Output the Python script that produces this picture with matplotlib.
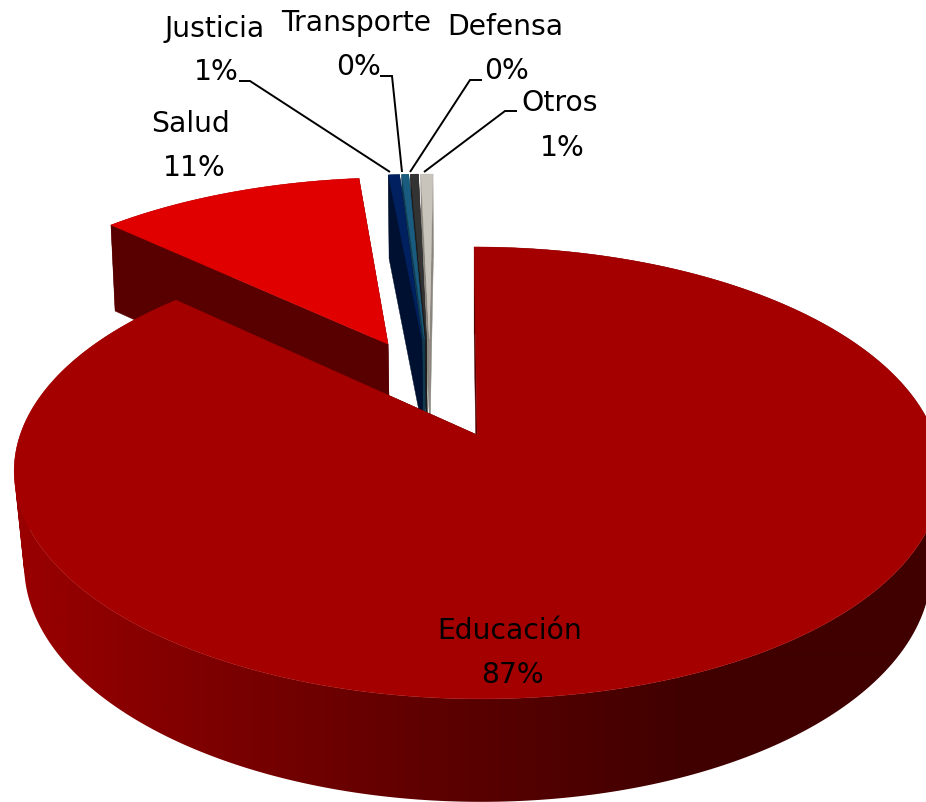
import numpy as np
import matplotlib
matplotlib.use('Agg')
import matplotlib.pyplot as plt
from matplotlib.colors import LinearSegmentedColormap
from matplotlib.patches import PathPatch, Polygon
from matplotlib.path import Path

# Datos
sectores = ['Educación', 'Salud', 'Justicia', 'Transporte', 'Defensa', 'Otros']
valores = [87.0, 11.36, 0.48, 0.30, 0.34, 0.52]
etiquetas = ['87%', '11%', '1%', '0%', '0%', '1%']

color_tapa = ['#a50000', '#e00000', '#002060', '#1a5c7f', '#333333', '#c9c4bb']
color_pared = ['#500000', '#580000', '#001030', '#0f3a50', '#1c1c1c', '#8a867e']

# Perspectiva del pastel (pixeles)
X0, Y0 = 477, 436
A, B, K, CIZALLA = 457, 219.6, 0.168, 3.5
ALTO, K_ALTO = 94.3, 0.084
X_FUGA = 475
EXPLOSION = 0.245
CENTRO = (-0.097, -0.225)
ajuste_u = [0, 0, -0.008, -0.008, -0.008, -0.008]


def proyectar(u, v, abajo=False):
    u, v = np.asarray(u, float), np.asarray(v, float)
    x = X0 + (A * u + CIZALLA * v) / (1 - K * v)
    y = Y0 + B * v / (1 - K * v)
    if abajo:
        y = y + ALTO / (1 - K_ALTO * v)
        # la base se encoge mas hacia el frente
        x = x - (0.011 + 0.0079 * (v + 1.2)) * (x - X_FUGA)
    return x, y


def poligono(xs, ys):
    return np.column_stack([xs, ys])


def banda(xa, ya, xb, yb):
    # pared como suma de cuadrilateros con la misma orientacion
    trozos = []
    for n in range(len(xa) - 1):
        q = poligono([xa[n], xa[n + 1], xb[n + 1], xb[n]], [ya[n], ya[n + 1], yb[n + 1], yb[n]])
        area = np.sum(q[:, 0] * np.roll(q[:, 1], -1) - np.roll(q[:, 0], -1) * q[:, 1])
        if area < 0:
            q = q[::-1]
        trozos.append(Path(np.vstack([q, q[0]]), closed=True))
    return Path.make_compound_path(*trozos)


fig = plt.figure(figsize=(9.26, 8.03), dpi=100)
ax = fig.add_axes([0, 0, 1, 1])

limites = np.radians(np.concatenate([[0], np.cumsum(valores)]) * 3.6)
gradiente = LinearSegmentedColormap.from_list(
    'pared', ['#9c0000', '#7a0000', '#5a0000', '#400000', '#400000'])

# Se dibuja de atras hacia adelante: Otros ... Salud, Educacion al final
for i in range(len(valores) - 1, -1, -1):
    t0, t1 = limites[i], limites[i + 1]
    medio = (t0 + t1) / 2
    cu = CENTRO[0] + EXPLOSION * np.sin(medio) + ajuste_u[i]
    cv = CENTRO[1] - EXPLOSION * np.cos(medio)
    radio = 1.0 if i == 0 else 1.015
    t = np.linspace(t0, t1, 400 if i == 0 else 40)
    u = cu + radio * np.sin(t)
    v = cv - radio * np.cos(t)

    xa, ya = proyectar(u, v)
    xb, yb = proyectar(u, v, abajo=True)
    xc, yc = proyectar(cu, cv)
    xcb, ycb = proyectar(cu, cv, abajo=True)

    # paredes de los cortes
    for j in (-1, 0):
        ax.add_patch(Polygon(poligono([xc, xa[j], xb[j], xcb], [yc, ya[j], yb[j], ycb]),
                             fc=color_pared[i], ec=color_pared[i], lw=0.3))

    # pared exterior
    if i == 0:
        # degradado horizontal recortado a la pared
        contorno = PathPatch(banda(xa, ya, xb, yb), fc='none', ec='none')
        ax.add_patch(contorno)
        img = ax.imshow(np.linspace(0, 1, 926).reshape(1, -1), cmap=gradiente, vmin=0, vmax=1,
                        extent=(0, 926, 803, 0), aspect='auto', interpolation='bilinear', zorder=2)
        img.set_clip_path(contorno)
    else:
        ax.add_patch(PathPatch(banda(xa, ya, xb, yb), fc=color_pared[i], ec='none'))

    # tapa: las de atras quedan bajo el degradado, la de Educacion encima
    ax.add_patch(Polygon(poligono(np.r_[xc, xa], np.r_[yc, ya]),
                         fc=color_tapa[i], ec=color_tapa[i], lw=0.3, zorder=3 if i == 0 else 1))

# Etiquetas
FUENTE = 20.3
pos_nombre = [(510, 631), (191, 124), (215, 29), (356, 23), (505, 27), (560, 103)]
pos_valor = [(512, 675), (194, 168), (216, 72), (358, 67), (506, 71), (562, 148)]
for nombre, valor, pn, pv in zip(sectores, etiquetas, pos_nombre, pos_valor):
    ax.text(pn[0], pn[1], nombre, fontsize=FUENTE, ha='center', va='center', color='black', zorder=5)
    ax.text(pv[0], pv[1], valor, fontsize=FUENTE, ha='center', va='center', color='black', zorder=5)

# Lineas guia
guias = [
    ([239, 250, 390], [82, 82, 173]),
    ([380, 392, 402], [77, 77, 173]),
    ([482, 470, 410], [81, 81, 173]),
    ([517, 505, 424], [112, 112, 173]),
]
for xs, ys in guias:
    ax.plot(xs, ys, color='black', lw=1.4, solid_capstyle='butt', solid_joinstyle='miter', zorder=4)

ax.set_xlim(0, 926)
ax.set_ylim(803, 0)
ax.axis('off')

fig.savefig('out.png', dpi=100)
